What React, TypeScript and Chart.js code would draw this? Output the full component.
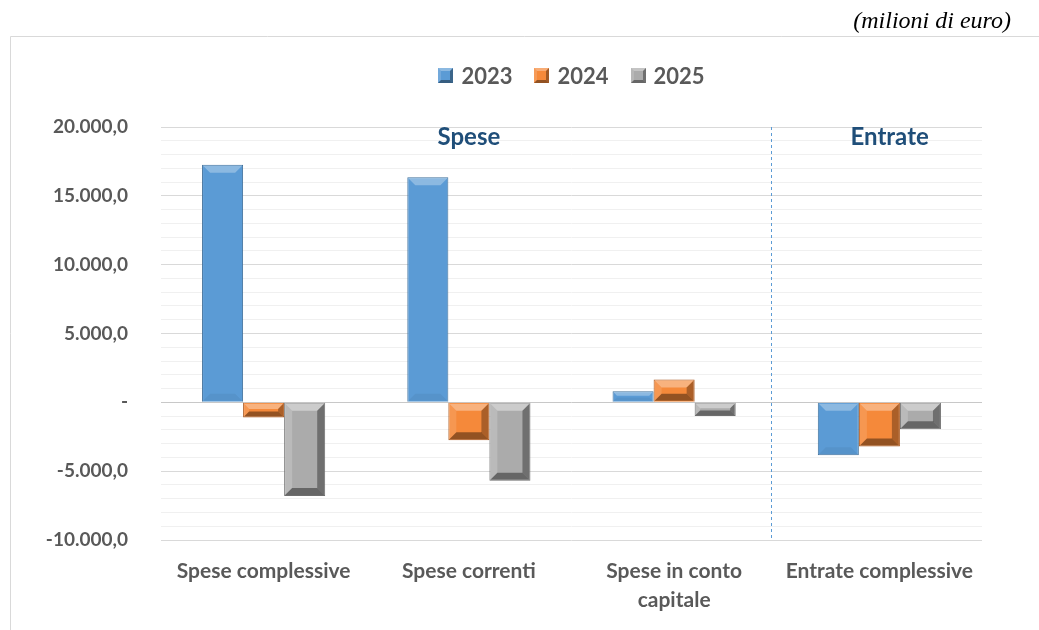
import React, { useEffect, useRef } from 'react';
import { Chart, registerables } from 'chart.js';

Chart.register(...registerables);

// ---- data ----
const categories: string[][] = [
  ['Spese complessive'],
  ['Spese correnti'],
  ['Spese in conto', 'capitale'],
  ['Entrate complessive'],
];
const seriesNames = ['2023', '2024', '2025'];
const values2023 = [17250, 16350, 800, -3850];
const values2024 = [-1100, -2750, 1650, -3200];
const values2025 = [-6800, -5700, -1000, -1950];
const yMin = -10000;
const yMax = 20000;
const yMinorStep = 1000;
const yMajorStep = 5000;
const unitLabel = '(milioni di euro)';
const sectionLabels = [
  { text: 'Spese', at: 1 },
  { text: 'Entrate', at: 3.05 },
];
const separatorAt = 2.47;

// ---- styles ----
const fills = ['#5B9BD5', '#F5893A', '#ABABAB'];
const borders = ['#41719C', '#A9561C', '#6E6E6E'];
const bevelStrength = [
  { top: 0.3, left: 0.0, right: 0.0, bottom: 0.05 },
  { top: 0.35, left: 0.12, right: 0.3, bottom: 0.4 },
  { top: 0.4, left: 0.18, right: 0.35, bottom: 0.4 },
];
const textGrey = '#595959';
const FONT = 'Lato, "Open Sans", sans-serif';

function fmt(v: number): string {
  if (v === 0) return '-';
  const s = Math.abs(v).toFixed(0).replace(/\B(?=(\d{3})+(?!\d))/g, '.');
  return (v < 0 ? '-' : '') + s + ',0';
}

function drawBevel(ctx: CanvasRenderingContext2D, l: number, t: number, r: number, b: number, st: any, maxS = 7) {
  const w = r - l;
  const h = b - t;
  const s = Math.min(maxS, h / 2.5, w / 2.5);
  if (s <= 0.5) return;
  const poly = (pts: number[][], color: string) => {
    ctx.beginPath();
    ctx.moveTo(pts[0][0], pts[0][1]);
    for (let i = 1; i < pts.length; i++) ctx.lineTo(pts[i][0], pts[i][1]);
    ctx.closePath();
    ctx.fillStyle = color;
    ctx.fill();
  };
  poly([[l, t], [r, t], [r - s, t + s], [l + s, t + s]], `rgba(255,255,255,${st.top})`);
  poly([[l, t], [l + s, t + s], [l + s, b - s], [l, b]], `rgba(255,255,255,${st.left})`);
  poly([[r, t], [r, b], [r - s, b - s], [r - s, t + s]], `rgba(0,0,0,${st.right})`);
  poly([[l, b], [r, b], [r - s, b - s], [l + s, b - s]], `rgba(0,0,0,${st.bottom})`);
}

const decorPlugin = {
  id: 'decor',
  beforeDatasetsDraw(chart: any) {
    const { ctx, chartArea, scales } = chart;
    const x = Math.round(scales.x.getPixelForValue(separatorAt)) + 0.5;
    ctx.save();
    ctx.strokeStyle = '#5B9BD5';
    ctx.lineWidth = 1;
    ctx.setLineDash([3, 3]);
    ctx.beginPath();
    ctx.moveTo(x, chartArea.top);
    ctx.lineTo(x, chartArea.bottom);
    ctx.stroke();
    ctx.restore();
  },
  afterDatasetsDraw(chart: any) {
    const { ctx } = chart;
    ctx.save();
    chart.data.datasets.forEach((ds: any, i: number) => {
      const meta = chart.getDatasetMeta(i);
      meta.data.forEach((bar: any) => {
        const p = bar.getProps(['x', 'y', 'base', 'width'], true);
        const l = p.x - p.width / 2;
        const r = p.x + p.width / 2;
        const t = Math.min(p.y, p.base);
        const b = Math.max(p.y, p.base);
        drawBevel(ctx, l + 1, t + 1, r - 1, b - 1, bevelStrength[i]);
      });
    });
    ctx.restore();
  },
  afterDraw(chart: any) {
    const { ctx, chartArea, scales } = chart;
    ctx.save();
    // frame
    ctx.strokeStyle = '#D9D9D9';
    ctx.lineWidth = 1;
    ctx.beginPath();
    ctx.moveTo(10.5, 630);
    ctx.lineTo(10.5, 36.5);
    ctx.lineTo(1039, 36.5);
    ctx.stroke();

    // unit label
    ctx.fillStyle = '#000000';
    ctx.font = 'italic 24px "Liberation Serif", "Times New Roman", serif';
    ctx.textAlign = 'right';
    ctx.textBaseline = 'middle';
    ctx.fillText(unitLabel, 1011, 22);

    // section labels
    ctx.fillStyle = '#1F4E79';
    ctx.font = `bold 24px ${FONT}`;
    ctx.textAlign = 'center';
    sectionLabels.forEach((s) => {
      ctx.fillText(s.text, scales.x.getPixelForValue(s.at), chartArea.top + 10);
    });

    // legend
    ctx.font = `bold 22px ${FONT}`;
    const box = 15;
    const gapBoxText = 8;
    const gapItems = 22;
    const widths = chart.data.datasets.map((ds: any) => ctx.measureText(ds.label).width);
    const total = widths.reduce((a: number, w: number) => a + box + gapBoxText + w, 0) + gapItems * (widths.length - 1);
    let cx = (chartArea.left + chartArea.right) / 2 - total / 2;
    const cy = 75.5;
    ctx.textAlign = 'left';
    chart.data.datasets.forEach((ds: any, i: number) => {
      const l = Math.round(cx);
      const t = Math.round(cy - box / 2);
      ctx.fillStyle = ds.backgroundColor;
      ctx.fillRect(l, t, box, box);
      drawBevel(ctx, l, t, l + box, t + box, { top: 0.3, left: 0.15, right: 0.35, bottom: 0.4 }, 3);
      ctx.fillStyle = textGrey;
      ctx.fillText(ds.label, cx + box + gapBoxText, cy + 1);
      cx += box + gapBoxText + widths[i] + gapItems;
    });
    ctx.restore();
  },
};

export default function App() {
  const ref = useRef<HTMLCanvasElement | null>(null);

  useEffect(() => {
    if (!ref.current) return;
    const seriesValues = [values2023, values2024, values2025];
    const chart = new Chart(ref.current, {
      type: 'bar',
      data: {
        labels: categories,
        datasets: seriesNames.map((name, i) => ({
          label: name,
          data: seriesValues[i],
          backgroundColor: fills[i],
          borderColor: borders[i],
          borderWidth: 1,
          barPercentage: 1,
          categoryPercentage: 0.6,
        })),
      },
      options: {
        responsive: false,
        animation: false,
        events: [],
        layout: { padding: { top: 127, right: 57, bottom: 0, left: 0 } },
        plugins: {
          legend: { display: false },
          tooltip: { enabled: false },
          title: { display: false },
        },
        scales: {
          x: {
            grid: { display: false, drawTicks: false },
            border: { display: false },
            ticks: {
              color: textGrey,
              font: { family: FONT, size: 21, weight: 'bold', lineHeight: 1.38 },
              padding: 17,
              maxRotation: 0,
              autoSkip: false,
            },
            afterFit: (s: any) => {
              s.height = 90;
            },
          },
          y: {
            min: yMin,
            max: yMax,
            grid: {
              drawTicks: false,
              lineWidth: 1,
              color: (c: any) => {
                const v = c.tick ? c.tick.value : 1;
                if (v === 0) return '#C8C8C8';
                if (v % yMajorStep === 0) return '#D9D9D9';
                return '#F0F0F0';
              },
            },
            border: { display: false },
            ticks: {
              stepSize: yMinorStep,
              autoSkip: false,
              color: textGrey,
              font: { family: FONT, size: 19, weight: 'bold' },
              padding: 33,
              callback: (v: any) => (Number(v) % yMajorStep === 0 ? fmt(Number(v)) : ''),
            },
            afterFit: (s: any) => {
              s.width = 161;
            },
          },
        },
      },
      plugins: [decorPlugin],
    });
    return () => chart.destroy();
  }, []);

  return (
    <div style={{ position: 'absolute', left: 0, top: 0, width: 1039, height: 630, background: '#fff' }}>
      <canvas ref={ref} width={1039} height={630} style={{ display: 'block' }} />
    </div>
  );
}
